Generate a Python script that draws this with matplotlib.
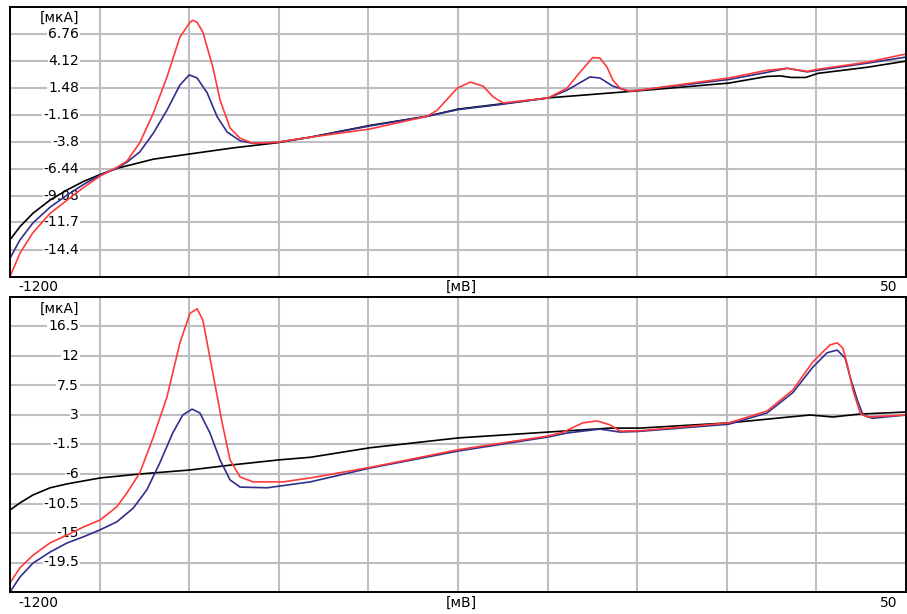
import numpy as np
import matplotlib.pyplot as plt

# Верхний график: потенциал (мВ) и ток (мкА)
top_black_x = [-1200, -1186, -1168, -1144, -1120, -1098, -1074, -1051, -1028, -1000, -950, -889, -828,
               -781, -698, -618, -575, -516, -449, -377, -322, -197, -144, -125, -110, -90, -73, -4, 50]
top_black_y = [-13.4, -12.1, -10.8, -9.5, -8.5, -7.7, -7.0, -6.4, -6.0, -5.5, -5.0, -4.4, -3.9,
               -3.35, -2.2, -1.3, -0.6, -0.1, 0.5, 0.9, 1.2, 1.95, 2.6, 2.65, 2.5, 2.5, 2.9, 3.5, 4.1]

top_blue_x = [-1200, -1186, -1168, -1144, -1120, -1098, -1074, -1051, -1037, -1019, -1000, -981, -963,
              -950, -939, -925, -911, -897, -879, -861, -828, -781, -698, -618, -575, -516, -449, -423,
              -391, -377, -359, -339, -322, -197, -144, -116, -88, -73, -4, 50]
top_blue_y = [-15.2, -13.4, -11.75, -10.2, -9.0, -8.0, -7.05, -6.4, -5.8, -4.8, -2.95, -0.7, 1.75,
              2.75, 2.45, 1.0, -1.35, -2.85, -3.7, -3.95, -3.85, -3.35, -2.25, -1.3, -0.65, -0.15, 0.5, 1.25,
              2.55, 2.45, 1.65, 1.2, 1.25, 2.3, 3.0, 3.4, 3.05, 3.2, 3.9, 4.5]

top_red_x = [-1200, -1186, -1168, -1144, -1120, -1098, -1074, -1051, -1037, -1019, -1000, -981, -963,
             -949, -945, -939, -931, -917, -907, -893, -879, -861, -828, -781, -698, -618, -604, -576,
             -558, -540, -526, -512, -449, -423, -405, -387, -377, -367, -359, -349, -335, -322, -197,
             -144, -116, -88, -73, -4, 50]
top_red_y = [-17.0, -14.7, -12.7, -10.8, -9.5, -8.3, -7.15, -6.3, -5.7, -3.9, -1.0, 2.55, 6.45,
             7.9, 8.1, 7.9, 6.95, 3.5, 0.3, -2.45, -3.45, -3.95, -3.85, -3.35, -2.55, -1.3, -0.7, 1.45,
             2.05, 1.65, 0.6, 0.0, 0.5, 1.45, 3.0, 4.45, 4.4, 3.5, 2.25, 1.45, 1.15, 1.25, 2.45,
             3.2, 3.4, 3.1, 3.3, 4.0, 4.8]

# Нижний график
bot_black_x = [-1200, -1186, -1168, -1144, -1120, -1074, -1019, -950, -889, -825, -781, -698, -575,
               -449, -363, -322, -197, -84, -52, -14, 50]
bot_black_y = [-11.5, -10.4, -9.2, -8.1, -7.5, -6.6, -6.0, -5.4, -4.6, -3.85, -3.45, -2.0, -0.5,
               0.4, 1.0, 1.0, 1.8, 3.0, 2.7, 3.15, 3.45]

bot_blue_x = [-1200, -1186, -1168, -1144, -1120, -1098, -1074, -1051, -1028, -1009, -991, -973, -959,
              -946, -935, -921, -907, -893, -879, -841, -781, -698, -575, -449, -423, -377, -349, -322,
              -197, -144, -108, -80, -60, -46, -35, -28, -18, -10, 3, 50]
bot_blue_y = [-24.0, -21.7, -19.6, -17.9, -16.5, -15.6, -14.5, -13.3, -11.2, -8.4, -4.3, 0.25, 3.0,
              3.9, 3.3, 0.25, -3.85, -6.9, -8.0, -8.1, -7.2, -5.1, -2.5, -0.35, 0.25, 0.85, 0.4, 0.5,
              1.6, 3.3, 6.4, 10.3, 12.5, 12.9, 11.7, 8.8, 5.3, 3.0, 2.5, 3.0]

bot_red_x = [-1200, -1186, -1168, -1144, -1120, -1098, -1074, -1051, -1037, -1019, -1000, -981, -963,
             -949, -939, -931, -917, -904, -893, -879, -861, -819, -781, -698, -575, -449, -428, -401,
             -381, -363, -349, -322, -197, -144, -108, -80, -56, -46, -38, -31, -24, -14, -4, 50]
bot_red_y = [-22.6, -20.3, -18.4, -16.5, -15.3, -14.1, -13.0, -11.0, -8.9, -5.85, -0.35, 5.75, 14.0,
             18.5, 19.2, 17.5, 9.4, 1.8, -3.85, -6.45, -7.2, -7.2, -6.6, -5.0, -2.3, -0.2, 0.4, 1.8,
             2.1, 1.5, 0.55, 0.6, 1.8, 3.6, 6.8, 11.1, 13.7, 14.0, 13.2, 10.3, 6.8, 3.3, 2.7, 3.0]

top_ticks = [-14.4, -11.7, -9.08, -6.44, -3.8, -1.16, 1.48, 4.12, 6.76]
bot_ticks = [-19.5, -15, -10.5, -6, -1.5, 3, 7.5, 12, 16.5]
x_grid = np.arange(-1075, 0, 125)

fig = plt.figure(figsize=(9.07, 6.14), dpi=100)
ax1 = fig.add_axes([10/907, 1 - 277/614, 896/907, 270/614])
ax2 = fig.add_axes([10/907, 1 - 592/614, 896/907, 295/614])

panels = [
    (ax1, (-17.04, 9.4), top_ticks, top_black_x, top_black_y, top_blue_x, top_blue_y, top_red_x, top_red_y, 287),
    (ax2, (-24, 21), bot_ticks, bot_black_x, bot_black_y, bot_blue_x, bot_blue_y, bot_red_x, bot_red_y, 603),
]

for ax, ylim, ticks, bx, by, nx, ny, rx, ry, lab_y in panels:
    ax.set_xlim(-1200, 50)
    ax.set_ylim(*ylim)
    ax.set_xticks(x_grid)
    ax.set_yticks(ticks)
    ax.tick_params(length=0, labelbottom=False, labelleft=False)
    ax.set_axisbelow(True)
    ax.grid(True, color='#bdbdc3', linewidth=1.5)
    for s in ax.spines.values():
        s.set_linewidth(1.4)
        s.set_color('black')

    # подписи делений внутри поля графика
    for t in ticks:
        ax.text(0.077, t, f'{t:g}', transform=ax.get_yaxis_transform(), ha='right', va='center',
                fontsize=10, zorder=1.5,
                bbox=dict(facecolor='white', edgecolor='none', pad=0.5))
    ax.text(0.077, 0.985, '[мкА]', transform=ax.transAxes, ha='right', va='top', fontsize=10, zorder=1.5,
            bbox=dict(facecolor='white', edgecolor='none', pad=0.5))

    ax.plot(bx, by, color='black', linewidth=1.2, zorder=2)
    ax.plot(nx, ny, color='#2f2f8c', linewidth=1.2, zorder=2)
    ax.plot(rx, ry, color='#ff3a3a', linewidth=1.2, zorder=2)

    fy = 1 - lab_y / 614
    fig.text(18/907, fy, '-1200', ha='left', va='center', fontsize=10)
    fig.text(461/907, fy, '[мВ]', ha='center', va='center', fontsize=10)
    fig.text(897/907, fy, '50', ha='right', va='center', fontsize=10)

fig.savefig('out.png', dpi=100)
